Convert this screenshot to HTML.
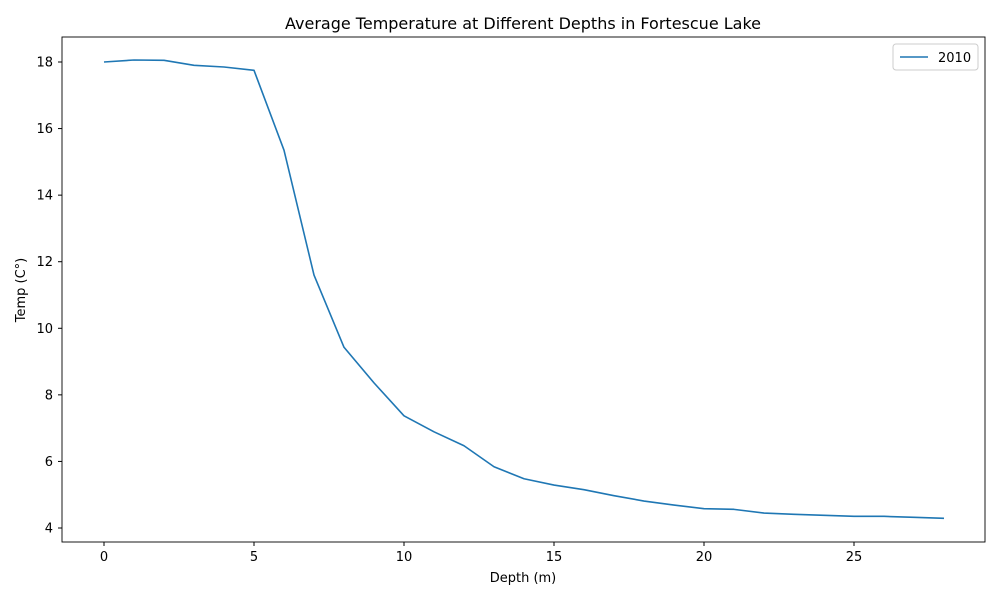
<!DOCTYPE html>
<html>
<head>
<meta charset="utf-8">
<style>
html,body{margin:0;padding:0;background:#fff;}
svg{display:block;font-family:"DejaVu Sans","Liberation Sans",sans-serif;}
</style>
</head>
<body>
<svg id="chart" width="1000" height="600" viewBox="0 0 1000 600">
<rect x="0" y="0" width="1000" height="600" fill="#fff"/>
<text x="523" y="29" font-size="16" text-anchor="middle" fill="#000">Average Temperature at Different Depths in Fortescue Lake</text>
<g id="xticks"></g>
<g id="yticks"></g>
<text x="523" y="582" font-size="13" text-anchor="middle">Depth (m)</text>
<text x="0" y="0" font-size="13" text-anchor="middle" transform="translate(25,290) rotate(-90)">Temp (C°)</text>
<path id="line" fill="none" stroke="#1f77b4" stroke-width="1.6" stroke-linejoin="round"/>
<rect x="62" y="37" width="923" height="505" fill="none" stroke="#000" stroke-width="0.9"/>
<g>
<rect x="893" y="44" width="85" height="26" rx="3" fill="#fff" stroke="#ccc"/>
<line x1="900" y1="57" x2="928" y2="57" stroke="#1f77b4" stroke-width="1.6"/>
<text x="938" y="62" font-size="13">2010</text>
</g>
</svg>
<script>
const depths = [0,1,2,3,4,5,6,7,8,9,10,11,12,13,14,15,16,17,18,19,20,21,22,23,24,25,26,27,28];
const temps2010 = [18.0,18.06,18.05,17.9,17.85,17.75,15.35,11.6,9.43,8.36,7.37,6.89,6.47,5.84,5.48,5.29,5.15,4.97,4.81,4.69,4.58,4.56,4.45,4.41,4.38,4.35,4.35,4.32,4.29];
const xTickLabels = [0,5,10,15,20,25];
const yTickLabels = [4,6,8,10,12,14,16,18];

const xScale = v => 104 + v * 30;
const yScale = v => 528 - (v - 4) * (466 / 14);
const NS = "http://www.w3.org/2000/svg";

const line = document.getElementById('line');
line.setAttribute('d', depths.map((d,i)=>(i?'L':'M')+xScale(d).toFixed(2)+','+yScale(temps2010[i]).toFixed(2)).join(''));

const xg = document.getElementById('xticks');
xTickLabels.forEach(v=>{
  const t = document.createElementNS(NS,'line');
  t.setAttribute('x1',xScale(v));t.setAttribute('x2',xScale(v));
  t.setAttribute('y1',542);t.setAttribute('y2',546);t.setAttribute('stroke','#000');
  
  
  xg.appendChild(t);
  const l = document.createElementNS(NS,'text');
  l.setAttribute('x',xScale(v));l.setAttribute('y',561);
  l.setAttribute('font-size','13');l.setAttribute('text-anchor','middle');
  l.textContent = v;
  
  
  xg.appendChild(l);
});
const yg = document.getElementById('yticks');
yTickLabels.forEach(v=>{
  const t = document.createElementNS(NS,'line');
  t.setAttribute('x1',58);t.setAttribute('x2',62);
  t.setAttribute('y1',yScale(v));t.setAttribute('y2',yScale(v));t.setAttribute('stroke','#000');
  
  
  yg.appendChild(t);
  const l = document.createElementNS(NS,'text');
  l.setAttribute('x',53);l.setAttribute('y',yScale(v)+4.5);
  l.setAttribute('font-size','13');l.setAttribute('text-anchor','end');
  l.textContent = v;
  
  
  yg.appendChild(l);
});
</script>
</body>
</html>
